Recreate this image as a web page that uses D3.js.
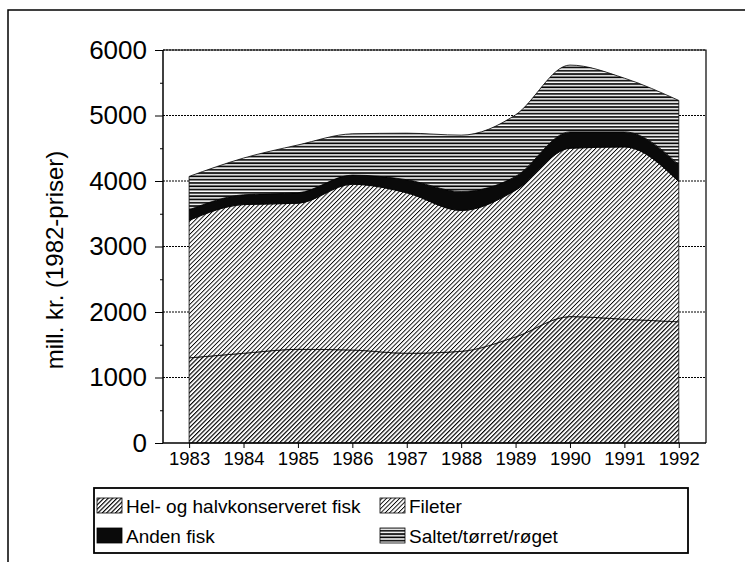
<!DOCTYPE html>
<html>
<head>
<meta charset="utf-8">
<script src="https://cdn.jsdelivr.net/npm/d3@7"></script>
<style>
  body { margin: 0; background: #fff; }
  text { font-family: "Liberation Sans", Arial, sans-serif; fill: #000; }
</style>
</head>
<body>
<div id="chartdiv"></div>
<script>
// data (mill. kr., 1982-priser)
var years = [1983, 1984, 1985, 1986, 1987, 1988, 1989, 1990, 1991, 1992];
var helHalv = [1300, 1370, 1430, 1420, 1370, 1400, 1620, 1930, 1890, 1850];
var fileter = [2100, 2270, 2230, 2530, 2450, 2150, 2240, 2570, 2630, 2140];
var andenFisk = [160, 150, 160, 140, 200, 290, 210, 250, 230, 260];
var saltet = [510, 560, 730, 630, 710, 860, 940, 1020, 820, 980];
var seriesNames = ["Hel- og halvkonserveret fisk", "Fileter", "Anden fisk", "Saltet/tørret/røget"];
var yTicks = [0, 1000, 2000, 3000, 4000, 5000, 6000];

var W = 745, H = 562;
var margin = {top: 50, right: 39, bottom: 119, left: 163};
var width = W - margin.left - margin.right,
    height = H - margin.top - margin.bottom;

var svg = d3.select("#chartdiv").append("svg")
  .attr("width", W)
  .attr("height", H);

// patterns
var defs = svg.append("defs");
function hatch(id, sw, gap) {
  var p = defs.append("pattern")
    .attr("id", id)
    .attr("patternUnits", "userSpaceOnUse")
    .attr("width", gap).attr("height", 10)
    .attr("patternTransform", "rotate(45)");
  p.append("rect").attr("width", gap).attr("height", 10).attr("fill", "#fff");
  p.append("line").attr("x1", 0).attr("y1", 0).attr("x2", 0).attr("y2", 10)
    .attr("stroke", "#000").attr("stroke-width", sw);
}
hatch("p-hel", 2.3, 3.1);
hatch("p-fil", 1.8, 3.1);
var ps = defs.append("pattern")
  .attr("id", "p-salt")
  .attr("patternUnits", "userSpaceOnUse")
  .attr("width", 10).attr("height", 3.3);
ps.append("rect").attr("width", 10).attr("height", 3.3).attr("fill", "#fff");
ps.append("line").attr("x1", 0).attr("y1", 1).attr("x2", 10).attr("y2", 1)
  .attr("stroke", "#000").attr("stroke-width", 1.7);

var fills = ["url(#p-hel)", "url(#p-fil)", "#0a0a0a", "url(#p-salt)"];

// outer frame
svg.append("path")
  .attr("d", "M8," + (H + 5) + "V10H" + (W + 5))
  .attr("fill", "none").attr("stroke", "#000").attr("stroke-width", 1.5);

var g = svg.append("g")
  .attr("transform", "translate(" + margin.left + "," + margin.top + ")");

var x = d3.scaleLinear().domain([1982.52, 1992.5]).range([0, width]);
var y = d3.scaleLinear().domain([0, 6000]).range([height, 0]);

// dotted grid lines
g.selectAll(".grid")
  .data(yTicks.slice(1))
  .enter().append("line")
    .attr("class", "grid")
    .attr("x1", 0).attr("x2", width)
    .attr("y1", d => y(d)).attr("y2", d => y(d))
    .attr("stroke", "#000").attr("stroke-width", 1)
    .attr("stroke-dasharray", "2,1");

var table = years.map((yr, i) => ({
  year: yr, s0: helHalv[i], s1: fileter[i], s2: andenFisk[i], s3: saltet[i]
}));
var stack = d3.stack().keys(["s0", "s1", "s2", "s3"]);
var layers = stack(table);

var area = d3.area()
  .curve(d3.curveMonotoneX)
  .x(d => x(d.data.year))
  .y0(d => y(d[0]))
  .y1(d => y(d[1]));

g.selectAll(".layer")
  .data(layers)
  .enter().append("path")
    .attr("class", "layer")
    .attr("d", area)
    .attr("fill", (d, i) => fills[i])
    .attr("stroke", "#000")
    .attr("stroke-width", 0.8);

// plot frame (top + right)
g.append("path")
  .attr("d", "M0,0H" + width + "V" + height)
  .attr("fill", "none").attr("stroke", "#000").attr("stroke-width", 1.2);

// y axis
var yAxis = g.append("g")
  .call(d3.axisLeft(y).tickValues(yTicks).tickSize(8).tickPadding(8).tickFormat(d3.format("d")));
yAxis.select(".domain").attr("stroke-width", 1.5).attr("d", "M0," + height + "V0");
yAxis.selectAll("text").attr("font-size", "26px").attr("font-family", "Liberation Sans, Arial");
g.append("g")
  .call(d3.axisLeft(y).tickValues(d3.range(500, 6000, 1000)).tickSize(3).tickFormat(""))
  .select(".domain").remove();

// x axis
var xAxis = g.append("g")
  .attr("transform", "translate(0," + height + ")")
  .call(d3.axisBottom(x).tickValues(years).tickSize(5).tickPadding(4).tickFormat(d3.format("d")));
xAxis.select(".domain").attr("stroke-width", 1.5).attr("d", "M0,0H" + width);
xAxis.selectAll("text").attr("font-size", "18.5px").attr("font-family", "Liberation Sans, Arial");

// y axis title
svg.append("text")
  .attr("transform", "translate(63,260) rotate(-90)")
  .attr("text-anchor", "middle")
  .attr("font-size", "24px")
  .text("mill. kr. (1982-priser)");

// legend
var legend = svg.append("g");
legend.append("rect")
  .attr("x", 94).attr("y", 488).attr("width", 594).attr("height", 65)
  .attr("fill", "#fff").attr("stroke", "#000").attr("stroke-width", 1.8);
var legPos = [[97, 513], [380, 513], [97, 543], [380, 543]];
var leg = legend.selectAll(".leg")
  .data(seriesNames)
  .enter().append("g")
    .attr("class", "leg")
    .attr("transform", (d, i) => "translate(" + legPos[i][0] + "," + legPos[i][1] + ")");
leg.append("rect")
  .attr("x", 0).attr("y", -15).attr("width", 25).attr("height", 15)
  .attr("fill", (d, i) => fills[i])
  .attr("stroke", "#000").attr("stroke-width", 0.8);
leg.append("text")
  .attr("x", 29).attr("y", 0)
  .attr("font-size", "19px")
  .text(d => d);
</script>
</body>
</html>
